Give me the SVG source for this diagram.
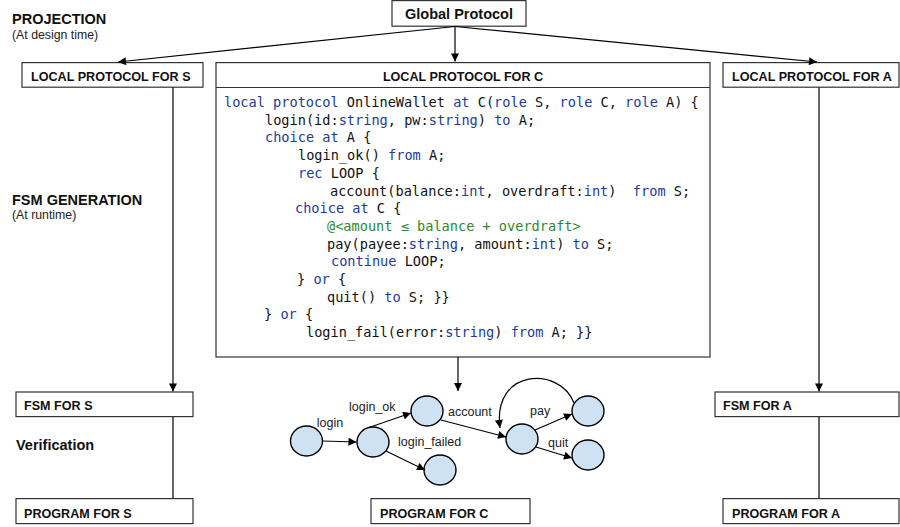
<svg xmlns="http://www.w3.org/2000/svg" width="900" height="527" viewBox="0 0 900 527">
<defs>
<marker id="ah" viewBox="0 0 10 10" refX="10" refY="5" markerWidth="9" markerHeight="8" markerUnits="userSpaceOnUse" orient="auto"><path d="M0,0 L10,5 L0,10 z" fill="#000"/></marker>
<marker id="sh" viewBox="0 0 10 10" refX="10" refY="5" markerWidth="9" markerHeight="8" markerUnits="userSpaceOnUse" orient="auto"><path d="M0,0 L10,5 L0,10 z" fill="#000"/></marker>
</defs>
<style>
.box{fill:#fff;stroke:#333;stroke-width:1.2}
.hd{font-family:"Liberation Sans",Arial,sans-serif;font-weight:bold;font-size:12.6px;fill:#111}
.big{font-family:"Liberation Sans",Arial,sans-serif;font-weight:bold;font-size:14.5px;fill:#111}
.sm{font-family:"Liberation Sans",Arial,sans-serif;font-size:12.3px;fill:#222}
.code{font-family:"DejaVu Sans Mono","Liberation Mono",monospace;font-size:13.6px;fill:#111}
.k{fill:#223a9a}
.g{fill:#2a8a2a}
.conn{stroke:#000;stroke-width:1.2;fill:none}
.st{fill:#cfe2f3;stroke:#000;stroke-width:1.4}
.lb{font-family:"Liberation Sans",Arial,sans-serif;font-size:12.5px;fill:#222}
</style>
<rect width="900" height="527" fill="#fff"/>

<g id="labels">
<text class="big" x="12" y="24">PROJECTION</text>
<text class="sm" x="12" y="39">(At design time)</text>
<text class="big" x="12" y="205">FSM GENERATION</text>
<text class="sm" x="12" y="219">(At runtime)</text>
<text class="big" x="16" y="450">Verification</text>
</g>

<g id="global">
<rect class="box" x="392" y="0.6" width="134" height="25.6"/>
<text class="big" x="459" y="18.5" text-anchor="middle">Global Protocol</text>
</g>

<g id="localS">
<rect class="box" x="22" y="62.6" width="181" height="24.6"/>
<text class="hd" x="31" y="81">LOCAL PROTOCOL FOR S</text>
</g>

<g id="localA">
<rect class="box" x="723" y="62.6" width="176" height="24.6"/>
<text class="hd" x="732" y="81">LOCAL PROTOCOL FOR A</text>
</g>

<g id="localC">
<rect class="box" x="216" y="62.6" width="494" height="294.4"/>
<line x1="216" y1="87.5" x2="710" y2="87.5" stroke="#333" stroke-width="1.2"/>
<text class="hd" x="463" y="81" text-anchor="middle">LOCAL PROTOCOL FOR C</text>
<g class="code">
<text x="224" y="107"><tspan class="k">local protocol</tspan> OnlineWallet <tspan class="k">at</tspan> C(<tspan class="k">role</tspan> S, <tspan class="k">role</tspan> C, <tspan class="k">role</tspan> A) {</text>
<text x="265" y="124.7">login(id:<tspan class="k">string</tspan>, pw:<tspan class="k">string</tspan>) <tspan class="k">to</tspan> A;</text>
<text x="265" y="142.4"><tspan class="k">choice at</tspan> A {</text>
<text x="298" y="160.1">login_ok() <tspan class="k">from</tspan> A;</text>
<text x="298" y="177.8"><tspan class="k">rec</tspan> LOOP {</text>
<text x="330" y="195.5">account(balance:<tspan class="k">int</tspan>, overdraft:<tspan class="k">int</tspan>)&#160; <tspan class="k">from</tspan> S;</text>
<text x="295" y="213.2"><tspan class="k">choice at</tspan> C {</text>
<text x="327" y="230.9" class="g">@&lt;amount ≤ balance + overdraft&gt;</text>
<text x="327" y="248.6">pay(payee:<tspan class="k">string</tspan>, amount:<tspan class="k">int</tspan>) <tspan class="k">to</tspan> S;</text>
<text x="331" y="266.3"><tspan class="k">continue</tspan> LOOP;</text>
<text x="297" y="284">} <tspan class="k">or</tspan> {</text>
<text x="327" y="301.7">quit() <tspan class="k">to</tspan> S; }}</text>
<text x="264" y="319.4">} <tspan class="k">or</tspan> {</text>
<text x="306" y="337.1">login_fail(error:<tspan class="k">string</tspan>) <tspan class="k">from</tspan> A; }}</text>
</g>
</g>

<g id="fsmS">
<rect class="box" x="16" y="392" width="177" height="24.6"/>
<text class="hd" x="24" y="409.5">FSM FOR S</text>
</g>

<g id="fsmA">
<rect class="box" x="715" y="392" width="184" height="24.6"/>
<text class="hd" x="723" y="409.5">FSM FOR A</text>
</g>

<g id="progS">
<rect class="box" x="16" y="498.6" width="177" height="25"/>
<text class="hd" x="24" y="518">PROGRAM FOR S</text>
</g>

<g id="progC">
<rect class="box" x="371" y="498.6" width="159" height="25"/>
<text class="hd" x="380" y="518">PROGRAM FOR C</text>
</g>

<g id="progA">
<rect class="box" x="723" y="498.6" width="176" height="25"/>
<text class="hd" x="732" y="518">PROGRAM FOR A</text>
</g>

<g id="fsmC">
<ellipse id="q0" class="st" cx="306.5" cy="441" rx="16" ry="15"/>
<ellipse id="q1" class="st" cx="373" cy="442" rx="16" ry="15"/>
<ellipse id="q2" class="st" cx="427" cy="411" rx="16" ry="15"/>
<ellipse id="q3" class="st" cx="440" cy="470" rx="16" ry="15"/>
<ellipse id="q4" class="st" cx="522" cy="439" rx="16" ry="15"/>
<ellipse id="q5" class="st" cx="588" cy="411" rx="16" ry="15"/>
<ellipse id="q6" class="st" cx="588" cy="455" rx="16" ry="15"/>
<text class="lb" x="330" y="427" text-anchor="middle">login</text>
<text class="lb" x="349" y="411">login_ok</text>
<text class="lb" x="398" y="446">login_failed</text>
<text class="lb" x="448" y="416">account</text>
<text class="lb" x="530" y="415">pay</text>
<text class="lb" x="548" y="447">quit</text>
</g>

<g id="connectors">
<line class="conn" x1="455" y1="26.5" x2="118" y2="62" marker-end="url(#ah)"/>
<line class="conn" x1="455" y1="26.5" x2="455" y2="61.5" marker-end="url(#ah)"/>
<line class="conn" x1="455" y1="26.5" x2="817" y2="62" marker-end="url(#ah)"/>
<line class="conn" x1="173" y1="87.5" x2="173" y2="391.5" marker-end="url(#ah)"/>
<line class="conn" x1="819" y1="87.5" x2="819" y2="391.5" marker-end="url(#ah)"/>
<line class="conn" x1="458" y1="357" x2="458" y2="391" marker-end="url(#ah)"/>
<line class="conn" x1="173" y1="417" x2="173" y2="498.6"/>
<line class="conn" x1="819" y1="417" x2="819" y2="498.6"/>
<line class="conn" x1="322.5" y1="441" x2="356.5" y2="442" marker-end="url(#sh)"/>
<line class="conn" x1="369" y1="427.5" x2="411" y2="413" marker-end="url(#sh)"/>
<line class="conn" x1="386" y1="451" x2="425" y2="470" marker-end="url(#sh)"/>
<line class="conn" x1="441" y1="420" x2="506" y2="437" marker-end="url(#sh)"/>
<line class="conn" x1="535" y1="430" x2="572" y2="414" marker-end="url(#sh)"/>
<line class="conn" x1="536" y1="447" x2="572" y2="458" marker-end="url(#sh)"/>
<path class="conn" d="M574,403 C560,366 492,368 500,428" marker-end="url(#sh)"/>
</g>
</svg>
